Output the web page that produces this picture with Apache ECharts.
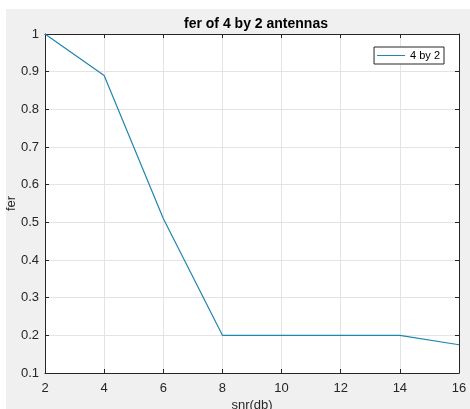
<!DOCTYPE html>
<html>
<head>
<meta charset="utf-8">
<script src="https://cdn.jsdelivr.net/npm/echarts@6/dist/echarts.min.js"></script>
<style>
  html, body { margin: 0; padding: 0; background: #fff; }
  #chart { width: 470px; height: 409px; }
</style>
</head>
<body>
<div id="chart"></div>
<script>
// snr in db and frame error rate
const snr = [2, 4, 6, 8, 10, 12, 14, 16];
const fer = [1, 0.89, 0.51, 0.2, 0.2, 0.2, 0.2, 0.175];
const seriesName = "4 by 2";

const axisColor = "#262626";
const font = "Liberation Sans, Arial, sans-serif";

const chart = echarts.init(document.getElementById("chart"));

function boxAxis(pos, show) {
  return {
    type: "value",
    position: pos,
    axisLine: { show: true, lineStyle: { color: axisColor, width: 1 } },
    axisTick: { show: true, inside: true, length: 4, lineStyle: { color: axisColor } },
    axisLabel: { show: show, color: axisColor, fontSize: 13, fontFamily: font },
    splitLine: { show: false }
  };
}

const option = {
  animation: false,
  backgroundColor: "#fff",
  graphic: [{
    type: "rect", z: -10, silent: true,
    shape: { x: 6, y: 9, width: 470, height: 409 },
    style: { fill: "#f0f0f0" }
  }],
  title: {
    text: "fer of 4 by 2 antennas",
    left: 251, top: 12, textAlign: "center",
    textStyle: { fontSize: 14, fontWeight: "bold", color: "#000", fontFamily: font }
  },
  legend: {
    data: [seriesName],
    right: 26, top: 47,
    orient: "vertical",
    backgroundColor: "#fff",
    borderColor: axisColor, borderWidth: 1, borderRadius: 0,
    padding: [3, 4, 3, 3],
    itemWidth: 28, itemHeight: 1, itemGap: 0,
    icon: "rect",
    textStyle: { fontSize: 11, color: "#000", fontFamily: font }
  },
  grid: {
    left: 45, right: 11, top: 34, bottom: 36,
    outerBoundsMode: "none", containLabel: false,
    backgroundColor: "#fff", show: true, borderWidth: 0
  },
  xAxis: [
    Object.assign(boxAxis("bottom", true), {
      min: 2, max: 16, interval: 2,
      name: "snr(db)", nameLocation: "middle", nameGap: 26, nameMoveOverlap: false,
      nameTextStyle: { fontSize: 13, color: axisColor, fontFamily: font },
      axisLabel: { color: axisColor, fontSize: 13, fontFamily: font, margin: 9 },
      splitLine: { show: true, lineStyle: { color: "#e3e3e3" } }
    }),
    Object.assign(boxAxis("top", false), { min: 2, max: 16, interval: 2 })
  ],
  yAxis: [
    Object.assign(boxAxis("left", true), {
      min: 0.1, max: 1, interval: 0.1,
      name: "fer", nameLocation: "middle", nameGap: 27, nameMoveOverlap: false,
      nameTextStyle: { fontSize: 13, color: axisColor, fontFamily: font },
      axisLabel: {
        color: axisColor, fontSize: 13, fontFamily: font, margin: 6,
        formatter: v => String(Math.round(v * 10) / 10)
      },
      splitLine: { show: true, lineStyle: { color: "#e3e3e3" } }
    }),
    Object.assign(boxAxis("right", false), { min: 0.1, max: 1, interval: 0.1 })
  ],
  series: [{
    name: seriesName,
    type: "line",
    data: snr.map((x, i) => [x, fer[i]]),
    showSymbol: false,
    symbol: "none",
    color: "#1f86ae",
    lineStyle: { width: 1.2, color: "#1f86ae" }
  }]
};

chart.setOption(option);
</script>
</body>
</html>
